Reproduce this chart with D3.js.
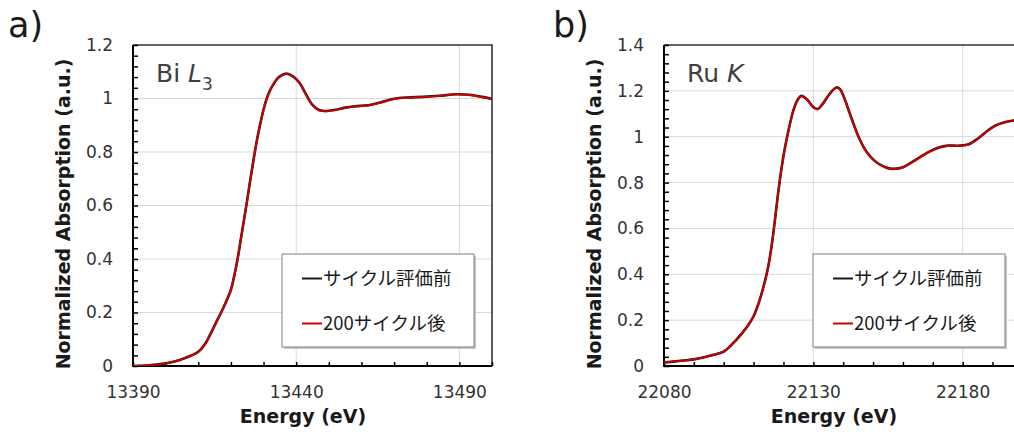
<!DOCTYPE html>
<html>
<head>
<meta charset="utf-8">
<script src="https://cdn.jsdelivr.net/npm/d3@7"></script>
<style>
  html, body { margin: 0; padding: 0; background: #fff; }
  svg { display: block; }
</style>
</head>
<body>
<svg id="chart" width="1014" height="432"></svg>
<script>
// ---- Bi L3 edge spectra ----
const biEnergy = [13390, 13395, 13399, 13403, 13406, 13408, 13410, 13412, 13414, 13416,
  13418, 13420, 13421, 13422, 13423, 13424, 13425, 13426, 13427, 13428,
  13429, 13430, 13431, 13432, 13433, 13434, 13435, 13437, 13439, 13441,
  13443, 13445, 13447, 13449, 13452, 13455, 13458, 13462, 13466, 13470,
  13474, 13479, 13484, 13489, 13493, 13497, 13500];
const biBefore = [0.000, 0.003, 0.008, 0.018, 0.030, 0.040, 0.053, 0.081, 0.126, 0.176,
  0.226, 0.285, 0.336, 0.397, 0.471, 0.546, 0.621, 0.701, 0.776, 0.846,
  0.906, 0.959, 1.001, 1.031, 1.053, 1.071, 1.083, 1.093, 1.083, 1.059,
  1.016, 0.976, 0.957, 0.953, 0.958, 0.966, 0.971, 0.975, 0.986, 0.999,
  1.004, 1.006, 1.010, 1.016, 1.014, 1.006, 0.998];
const biAfter = [0.000, 0.003, 0.008, 0.018, 0.030, 0.040, 0.052, 0.080, 0.125, 0.175,
  0.225, 0.284, 0.335, 0.396, 0.470, 0.545, 0.620, 0.700, 0.775, 0.845,
  0.905, 0.958, 1.000, 1.030, 1.052, 1.070, 1.082, 1.092, 1.082, 1.058,
  1.015, 0.975, 0.956, 0.952, 0.957, 0.965, 0.970, 0.974, 0.985, 0.998,
  1.003, 1.006, 1.010, 1.016, 1.013, 1.005, 0.997];

// ---- Ru K edge spectra ----
const ruEnergy = [22080, 22085, 22090, 22094, 22097, 22100, 22102, 22104, 22106, 22108,
  22110, 22111, 22112, 22113, 22114, 22115, 22116, 22117, 22118, 22119,
  22120, 22121, 22122, 22123, 22124, 22125, 22126, 22128, 22130, 22131.5,
  22133, 22135, 22137, 22138, 22139, 22140, 22141, 22142, 22143, 22144,
  22145, 22146, 22147, 22148, 22150, 22152, 22155, 22157, 22160, 22163,
  22166, 22169, 22172, 22175, 22179, 22182, 22185, 22188, 22191, 22194,
  22197, 22200];
const ruBefore = [0.015, 0.022, 0.029, 0.040, 0.050, 0.063, 0.084, 0.111, 0.141, 0.174,
  0.217, 0.249, 0.286, 0.331, 0.381, 0.441, 0.521, 0.621, 0.731, 0.831,
  0.916, 0.986, 1.046, 1.101, 1.141, 1.166, 1.178, 1.161, 1.129, 1.121,
  1.141, 1.179, 1.209, 1.215, 1.206, 1.181, 1.147, 1.109, 1.073, 1.037,
  1.004, 0.976, 0.951, 0.931, 0.901, 0.881, 0.863, 0.860, 0.867, 0.889,
  0.913, 0.936, 0.953, 0.961, 0.961, 0.967, 0.991, 1.023, 1.049, 1.063,
  1.071, 1.073];
const ruAfter = [0.015, 0.022, 0.029, 0.040, 0.050, 0.064, 0.085, 0.112, 0.142, 0.175,
  0.218, 0.250, 0.285, 0.330, 0.380, 0.440, 0.520, 0.620, 0.730, 0.830,
  0.915, 0.985, 1.045, 1.100, 1.140, 1.165, 1.177, 1.160, 1.128, 1.120,
  1.140, 1.178, 1.208, 1.214, 1.205, 1.180, 1.146, 1.108, 1.072, 1.036,
  1.003, 0.975, 0.950, 0.930, 0.900, 0.880, 0.862, 0.859, 0.866, 0.888,
  0.912, 0.935, 0.952, 0.960, 0.960, 0.966, 0.990, 1.022, 1.048, 1.062,
  1.070, 1.072];

// ---- axis ticks and labels ----
const biXMajor = [13390, 13440, 13490];
const biXMinor = d3.range(13390, 13501, 10);
const biYMajor = [0, 0.2, 0.4, 0.6, 0.8, 1, 1.2];
const biYMinor = d3.range(0, 1.2001, 0.04);
const ruXMajor = [22080, 22130, 22180];
const ruXMinor = d3.range(22080, 22201, 10);
const ruYMajor = [0, 0.2, 0.4, 0.6, 0.8, 1, 1.2, 1.4];
const ruYMinor = d3.range(0, 1.4001, 0.04);

const seriesNames = ["サイクル評価前", "200サイクル後"];
const seriesColors = ["#1a1a1a", "#cc0000"];
const xTitle = "Energy (eV)";
const yTitle = "Normalized Absorption (a.u.)";

const svg = d3.select("#chart");
const FONT = "'DejaVu Sans', Verdana, sans-serif";
const CJK = "'Noto Sans CJK JP', 'Noto Sans', sans-serif";

function fmtY(v) {
  return Math.abs(v - Math.round(v)) < 1e-9 ? String(Math.round(v)) : v.toFixed(1);
}

function drawPanel(cfg) {
  const g = svg.append("g");
  const x = d3.scaleLinear().domain(cfg.xDomain).range([cfg.left, cfg.right]);
  const y = d3.scaleLinear().domain(cfg.yDomain).range([cfg.bottom, cfg.top]);
  const clipId = "clip-" + cfg.id;

  svg.append("clipPath").attr("id", clipId)
    .append("rect")
    .attr("x", cfg.left).attr("y", cfg.top - 2)
    .attr("width", cfg.right - cfg.left).attr("height", cfg.bottom - cfg.top + 2);

  // grid lines
  g.append("g").selectAll("line")
    .data(cfg.yMajor.filter(v => v > cfg.yDomain[0] && v < cfg.yDomain[1]))
    .join("line")
    .attr("x1", cfg.left).attr("x2", cfg.right)
    .attr("y1", d => y(d)).attr("y2", d => y(d))
    .attr("stroke", "#d9d9d9").attr("stroke-width", 1);
  g.append("g").selectAll("line")
    .data(cfg.xMajor.filter(v => v > cfg.xDomain[0] && v < cfg.xDomain[1]))
    .join("line")
    .attr("x1", d => x(d)).attr("x2", d => x(d))
    .attr("y1", cfg.top).attr("y2", cfg.bottom)
    .attr("stroke", "#d9d9d9").attr("stroke-width", 1);

  // frame (top and right)
  g.append("path")
    .attr("d", `M${cfg.left},${cfg.top}H${cfg.right}V${cfg.bottom}`)
    .attr("fill", "none").attr("stroke", "#333").attr("stroke-width", 1.6);

  // minor ticks (inside)
  g.append("g")
    .attr("transform", `translate(0,${cfg.bottom})`)
    .call(d3.axisBottom(x).tickValues(cfg.xMinor).tickSize(-4).tickFormat(""))
    .call(a => a.select(".domain").remove())
    .call(a => a.selectAll("line").attr("stroke", "#000").attr("stroke-width", 1.5));
  g.append("g")
    .attr("transform", `translate(${cfg.left},0)`)
    .call(d3.axisLeft(y).tickValues(cfg.yMinor).tickSize(-5).tickFormat(""))
    .call(a => a.select(".domain").remove())
    .call(a => a.selectAll("line").attr("stroke", "#000").attr("stroke-width", 1.5));

  // labelled axes
  g.append("g")
    .attr("transform", `translate(0,${cfg.bottom})`)
    .call(d3.axisBottom(x).tickValues(cfg.xMajor).tickSize(0).tickPadding(20).tickFormat(d3.format("d")))
    .call(a => a.select(".domain").remove())
    .call(a => a.selectAll("text")
      .attr("font-family", FONT).attr("font-size", 17).attr("fill", "#333"));
  g.append("g")
    .attr("transform", `translate(${cfg.left},0)`)
    .call(d3.axisLeft(y).tickValues(cfg.yMajor).tickSize(0).tickPadding(20).tickFormat(fmtY))
    .call(a => a.select(".domain").remove())
    .call(a => a.selectAll("text")
      .attr("font-family", FONT).attr("font-size", 17).attr("fill", "#333"));

  // axis lines
  g.append("path")
    .attr("d", `M${cfg.left},${cfg.top}V${cfg.bottom}H${cfg.right}`)
    .attr("fill", "none").attr("stroke", "#000").attr("stroke-width", 2);

  // spectra
  const line = d3.line()
    .x((d, i) => x(cfg.energy[i]))
    .y(d => y(d))
    .curve(d3.curveCatmullRom.alpha(0.5));
  const lines = g.append("g").attr("clip-path", `url(#${clipId})`);
  lines.append("path").datum(cfg.before)
    .attr("d", line).attr("fill", "none")
    .attr("stroke", seriesColors[0]).attr("stroke-width", 2.6)
    .attr("stroke-linejoin", "round");
  lines.append("path").datum(cfg.after)
    .attr("d", line).attr("fill", "none")
    .attr("stroke", seriesColors[1]).attr("stroke-width", 1.9)
    .attr("stroke-linejoin", "round");

  // panel letter
  svg.append("text")
    .attr("x", cfg.letterX).attr("y", 37)
    .attr("font-family", FONT).attr("font-size", 35).attr("fill", "#1a1a1a")
    .text(cfg.letter);

  // edge label
  const lab = g.append("text")
    .attr("x", cfg.left + 23).attr("y", 82)
    .attr("font-family", FONT).attr("font-size", 25).attr("fill", "#404040");
  lab.append("tspan").text(cfg.element + " ");
  lab.append("tspan").attr("font-style", "italic").text(cfg.edge);
  if (cfg.edgeSub) {
    lab.append("tspan").attr("font-size", 17).attr("dy", 8).text(cfg.edgeSub);
  }

  // axis titles
  g.append("text")
    .attr("x", cfg.left + 170).attr("y", 423)
    .attr("text-anchor", "middle")
    .attr("font-family", FONT).attr("font-weight", "bold").attr("font-size", 19)
    .attr("fill", "#1a1a1a")
    .text(xTitle);
  g.append("text")
    .attr("transform", `translate(${cfg.left - 63},214) rotate(-90)`)
    .attr("text-anchor", "middle")
    .attr("font-family", FONT).attr("font-weight", "bold").attr("font-size", 19)
    .attr("fill", "#1a1a1a")
    .text(yTitle);

  // legend
  const lx = cfg.legendX, ly = 254, lw = 192, lh = 93;
  const leg = g.append("g");
  leg.append("rect")
    .attr("x", lx + 2).attr("y", ly + 2).attr("width", lw).attr("height", lh)
    .attr("fill", "#c8c8c8");
  leg.append("rect")
    .attr("x", lx).attr("y", ly).attr("width", lw).attr("height", lh)
    .attr("fill", "#fff").attr("stroke", "#808080").attr("stroke-width", 1);
  const rows = [24.5, 69.5];
  seriesNames.forEach((name, i) => {
    leg.append("line")
      .attr("x1", lx + 20).attr("x2", lx + 40)
      .attr("y1", ly + rows[i]).attr("y2", ly + rows[i])
      .attr("stroke", seriesColors[i]).attr("stroke-width", 2);
    leg.append("text")
      .attr("x", lx + 41).attr("y", ly + rows[i] + 6.5)
      .attr("font-family", CJK).attr("font-size", 18.5).attr("fill", "#1a1a1a")
      .text(name);
  });
}

drawPanel({
  id: "bi", letter: "a)", letterX: 8,
  left: 133, right: 492, top: 45, bottom: 366,
  xDomain: [13390, 13500], yDomain: [0, 1.2],
  xMajor: biXMajor, xMinor: biXMinor, yMajor: biYMajor, yMinor: biYMinor,
  energy: biEnergy, before: biBefore, after: biAfter,
  element: "Bi", edge: "L", edgeSub: "3",
  legendX: 282
});

drawPanel({
  id: "ru", letter: "b)", letterX: 553,
  left: 664, right: 1022.4, top: 45, bottom: 366,
  xDomain: [22080, 22200], yDomain: [0, 1.4],
  xMajor: ruXMajor, xMinor: ruXMinor, yMajor: ruYMajor, yMinor: ruYMinor,
  energy: ruEnergy, before: ruBefore, after: ruAfter,
  element: "Ru", edge: "K", edgeSub: null,
  legendX: 813
});
</script>
</body>
</html>
